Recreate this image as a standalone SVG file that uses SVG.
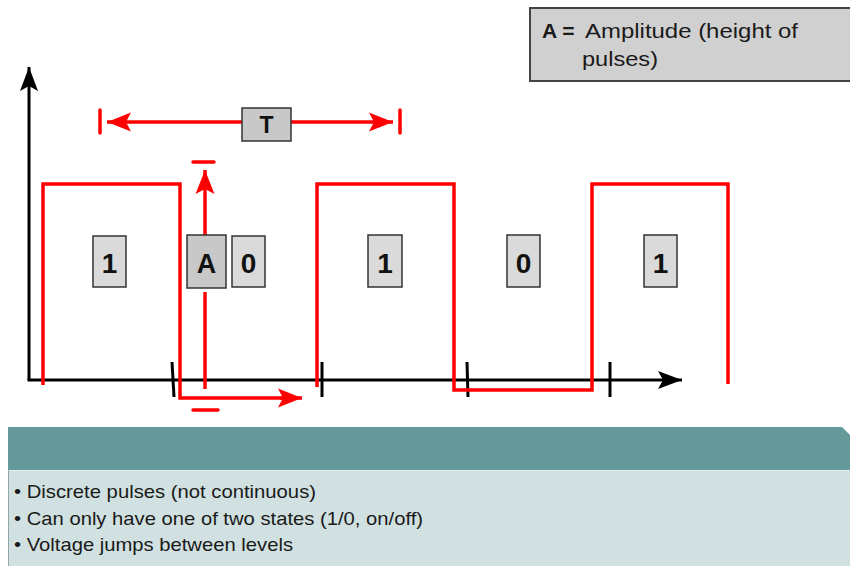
<svg xmlns="http://www.w3.org/2000/svg" width="850" height="566" viewBox="0 0 850 566">
  <style>
    .axis { stroke: #000; stroke-width: 3; fill: none; }
    .tick { stroke: #000; stroke-width: 3; fill: none; }
    .sig { stroke: #ff0000; stroke-width: 3.5; fill: none; stroke-linejoin: miter; }
    .dim { stroke: #ff0000; stroke-width: 3.5; fill: none; }
    .bar { stroke: #ff0000; stroke-width: 3.5; stroke-linecap: round; }
    .bit { fill: #dadada; stroke: #333; stroke-width: 1.5; }
    .lbl { fill: #c8c8c8; stroke: #333; stroke-width: 1.5; }
    .num { font-family: "Liberation Sans", Arial, sans-serif; font-weight: bold; fill: #111; text-anchor: middle; }
    .note { font-family: "Liberation Sans", Arial, sans-serif; fill: #1a1a1a; }
  </style>
  <defs>
    <marker id="redHead" markerWidth="26" markerHeight="20" refX="24" refY="10" orient="auto" markerUnits="userSpaceOnUse">
      <path d="M24,10 L0,0.5 L5,10 L0,19.5 Z" fill="#ff0000"/>
    </marker>
    <marker id="blackHead" markerWidth="26" markerHeight="20" refX="24" refY="10" orient="auto" markerUnits="userSpaceOnUse">
      <path d="M24,10 L0,1 L5,10 L0,19 Z" fill="#000"/>
    </marker>
  </defs>

  <rect width="850" height="566" fill="#ffffff"/>

  <!-- legend box -->
  <g id="legend">
    <rect x="530" y="8" width="330" height="73" fill="#d0d0d0" stroke="#444" stroke-width="2"/>
    <text class="note" x="542" y="38" font-size="21" font-weight="bold">A =</text>
    <text class="note" x="585" y="38" font-size="21" textLength="213" lengthAdjust="spacingAndGlyphs">Amplitude (height of</text>
    <text class="note" x="582" y="66" font-size="21" textLength="76" lengthAdjust="spacingAndGlyphs">pulses)</text>
  </g>

  <!-- axes, ticks and signal -->
  <g id="connectors">
    <line class="axis" x1="29" y1="380" x2="29" y2="67" marker-end="url(#blackHead)"/>
    <line class="axis" x1="27.5" y1="380" x2="682" y2="380" marker-end="url(#blackHead)"/>
    <line class="tick" x1="172" y1="362" x2="174" y2="397"/>
    <line class="tick" x1="322" y1="362" x2="322" y2="397"/>
    <line class="tick" x1="467" y1="362" x2="468" y2="397"/>
    <line class="tick" x1="610" y1="362" x2="610" y2="397"/>

    <!-- pulse train -->
    <path class="sig" d="M43,385 V184 H180 V398 H290"/>
    <line class="dim" x1="280" y1="398" x2="302" y2="398" marker-end="url(#redHead)"/>
    <path class="sig" d="M317,387 V184 H454 V390 H592 V184 H728 V384"/>

    <!-- period T -->
    <line class="bar" x1="100" y1="110" x2="100" y2="133"/>
    <line class="bar" x1="400" y1="110" x2="400" y2="133"/>
    <line class="dim" x1="242" y1="122" x2="107" y2="122" marker-end="url(#redHead)"/>
    <line class="dim" x1="291" y1="122" x2="393" y2="122" marker-end="url(#redHead)"/>

    <!-- amplitude A -->
    <line class="bar" x1="193" y1="162" x2="214" y2="162"/>
    <line class="bar" x1="193" y1="410" x2="218" y2="410"/>
    <line class="dim" x1="205" y1="235" x2="205" y2="170" marker-end="url(#redHead)"/>
    <line class="dim" x1="205" y1="292" x2="205" y2="389"/>
  </g>

  <!-- labels -->
  <g id="label-T">
    <rect class="lbl" x="242" y="108" width="49" height="33"/>
    <text class="num" x="266.5" y="133" font-size="23">T</text>
  </g>
  <g id="label-A">
    <rect class="lbl" x="187" y="235" width="39" height="53"/>
    <text class="num" x="206.5" y="273" font-size="27">A</text>
  </g>
  <g id="bit-1a">
    <rect class="bit" x="93" y="236" width="33" height="51"/>
    <text class="num" x="109.5" y="273" font-size="28">1</text>
  </g>
  <g id="bit-0a">
    <rect class="bit" x="232" y="236" width="33" height="51"/>
    <text class="num" x="248.5" y="273" font-size="28">0</text>
  </g>
  <g id="bit-1b">
    <rect class="bit" x="368" y="235" width="34" height="52"/>
    <text class="num" x="385" y="273" font-size="28">1</text>
  </g>
  <g id="bit-0b">
    <rect class="bit" x="507" y="235" width="33" height="52"/>
    <text class="num" x="523.5" y="273" font-size="28">0</text>
  </g>
  <g id="bit-1c">
    <rect class="bit" x="644" y="235" width="33" height="52"/>
    <text class="num" x="660.5" y="273" font-size="28">1</text>
  </g>

  <!-- summary panel -->
  <g id="summary">
    <path d="M8,427 H842 L850,435 V470 H8 Z" fill="#669a9a"/>
    <rect x="8" y="470" width="842" height="96" fill="#d1e1e1"/>
    <line x1="8" y1="470.5" x2="850" y2="470.5" stroke="#e6efef" stroke-width="1"/>
    <line x1="8.5" y1="470" x2="8.5" y2="566" stroke="#8fa9a9" stroke-width="1"/>
    <text class="note" x="14" y="498" font-size="19" textLength="302" lengthAdjust="spacingAndGlyphs">• Discrete pulses (not continuous)</text>
    <text class="note" x="14" y="525" font-size="19" textLength="409" lengthAdjust="spacingAndGlyphs">• Can only have one of two states (1/0, on/off)</text>
    <text class="note" x="14" y="551" font-size="19" textLength="279" lengthAdjust="spacingAndGlyphs">• Voltage jumps between levels</text>
  </g>
</svg>
